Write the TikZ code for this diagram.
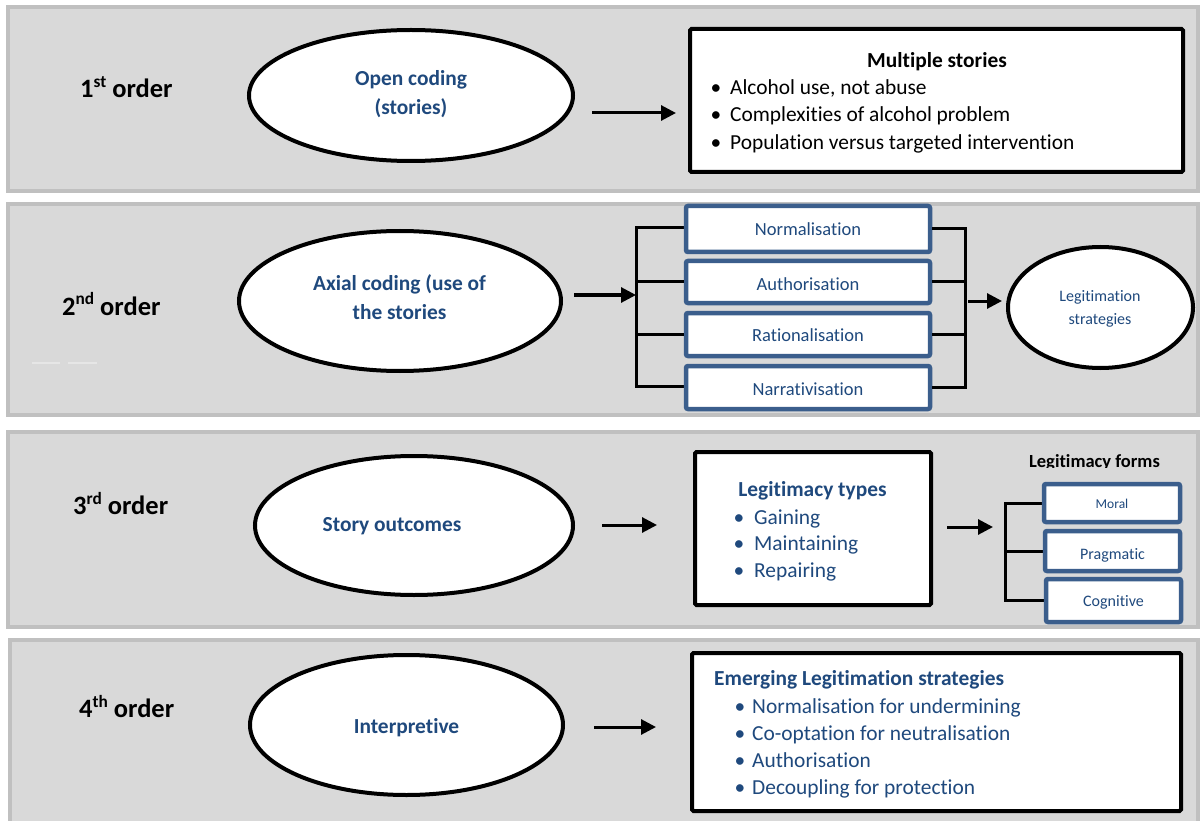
\documentclass[tikz,border=0pt]{standalone}
\usepackage{fontspec}
\setmainfont{Carlito}[Ligatures={NoCommon}]
\usetikzlibrary{shapes.geometric,arrows.meta}

\definecolor{panelfill}{HTML}{D9D9D9}
\definecolor{panelrule}{HTML}{C0C0C0}
\definecolor{inkblue}{HTML}{1F497D}
\definecolor{frameblue}{HTML}{3B5E8C}
\definecolor{streak}{HTML}{E6E6E6}

\newcommand\setfs[1]{\fontsize{#1}{#1}\selectfont}
\newcommand\ordsup[1]{\raisebox{10pt}{\setfs{17.3}#1}}
\newcommand\bul[1]{\llap{\textbullet\hspace{#1pt}}}

\begin{document}
\begin{tikzpicture}[x=1pt,y=-1pt,
  panel/.style={draw=panelrule, fill=panelfill, line width=4pt},
  oval/.style={ellipse, draw=black, fill=white, line width=4pt, inner sep=0pt},
  blackbox/.style={rectangle, draw=black, fill=white, line width=4pt, inner sep=0pt, rounded corners=1.5pt},
  bluebox/.style={rectangle, draw=frameblue, fill=white, line width=4.5pt, inner sep=0pt,
                  rounded corners=2pt, text=inkblue, text depth=0pt},
  link/.style={line width=3pt},
  arr/.style={line width=3pt, -{Triangle[length=15pt,width=15pt]}},
  ordlabel/.style={anchor=base west, inner sep=0pt, font=\setfs{26.5}\bfseries},
  ovaltext/.style={align=center, inner sep=0pt, text=inkblue, font=\fontsize{21.4}{29}\selectfont\bfseries},
  item/.style={anchor=base west, inner sep=0pt, font=\setfs{21.4}},
  heading/.style={anchor=base, inner sep=0pt, font=\setfs{21.4}\bfseries},
]
\useasboundingbox (0,0) rectangle (1200,821);

% ---------- bands ----------
\path[panel] (8,7)    rectangle (1198,191);
\path[panel] (8,204)  rectangle (1198,415);
\path[panel] (8,432)  rectangle (1198,627);
\path[panel] (10,640) rectangle (1198,830);
\draw[streak, line width=1.5pt] (32,363) -- (60,363) (68,363) -- (97,363);

% ---------- 1st order ----------
\node[ordlabel] (ord1) at (80,98) {1\ordsup{st} order};
\node[oval, minimum width=324, minimum height=131] (e1) at (411,95.5) {};
\node[ovaltext] (t1) at (411,94.5) {Open coding\\(stories)};
\node[blackbox, minimum width=493, minimum height=143] (b1) at (936.5,100.5) {};
\node[heading] (b1h) at (937,68) {Multiple stories};
\node[item] (b1i1) at (730,95)  {\bul{9}Alcohol use, not abuse};
\node[item] (b1i2) at (730,122) {\bul{9}Complexities of alcohol problem};
\node[item] (b1i3) at (730,150) {\bul{9}Population versus targeted intervention};
\draw[arr] ([shift={(17,17.5)}]e1.east) -- ([shift={(-12,12.5)}]b1.west);

% ---------- 2nd order ----------
\node[ordlabel] (ord2) at (62,315) {2\ordsup{nd} order};
\node[oval, minimum width=322, minimum height=140] (e2) at (400,301) {};
\node[ovaltext] (t2) at (399.5,297.5) {Axial coding (use of\\the stories};

\coordinate (spineL) at (636,295);
\coordinate (spineR) at (965,301);

\draw[link] (686,228) -- (spineL |- 0,228) -- (spineL |- 0,386.5) -- (686,386.5);
\begin{scope}[every node/.style={bluebox, font=\setfs{18.5}, minimum width=244}]
  \node[minimum height=46, text height=12.6pt] (n1) at (808,229)   {Normalisation};
  \node[minimum height=42, text height=16.6pt] (n2) at (808,282)   {Authorisation};
  \node[minimum height=43, text height=14.6pt] (n3) at (808,334.5) {Rationalisation};
  \node[minimum height=43, text height=16.6pt] (n4) at (808,387.5) {Narrativisation};
\end{scope}
\draw[link] (n2.west) -- (n2.west -| spineL);
\draw[link] (n3.west) -- (n3.west -| spineL);
\draw[link] (n1.east) -- (n1.east -| spineR) -- (n4.east -| spineR) -- (n4.east);
\draw[link] (n2.east) -- (n2.east -| spineR);
\draw[link] (n3.east) -- (n3.east -| spineR);
\draw[arr] ([shift={(11,-6)}]e2.east) -- (spineL);

\node[oval, minimum width=185, minimum height=121] (e5) at (1100.5,307.5) {};
\node[align=center, inner sep=0pt, text=inkblue, font=\fontsize{16}{23}\selectfont] (t5) at (1100,308.5)
  {Legitimation\\strategies};
\draw[arr] ([shift={(3,0)}]spineR) -- ([shift={(-4,-6.5)}]e5.west);

% ---------- 3rd order ----------
\node[ordlabel] (ord3) at (73,514) {3\ordsup{rd} order};
\node[oval, minimum width=318, minimum height=139] (e3) at (414,525.5) {};
\node[heading, text=inkblue] (t3) at (392,531) {Story outcomes};
\node[blackbox, minimum width=236, minimum height=153] (b3) at (813,528.5) {};
\node[heading, text=inkblue] (b3h) at (812.5,496) {Legitimacy types};
\node[item, text=inkblue] (b3i1) at (754,524) {\bul{10}Gaining};
\node[item, text=inkblue] (b3i2) at (754,550) {\bul{10}Maintaining};
\node[item, text=inkblue] (b3i3) at (754,577) {\bul{10}Repairing};
\draw[arr] ([shift={(27,-0.5)}]e3.east) -- ([shift={(-36,-3.5)}]b3.west);

\begin{scope}
  \clip (1000,440) rectangle (1190,467);
  \node[anchor=base, inner sep=0pt, font=\setfs{18.5}\bfseries] (formsh) at (1094.5,467) {Legitimacy forms};
\end{scope}

\coordinate (spine3) at (1005,527);
\draw[link] (1044,503) -- (spine3 |- 0,503) -- (spine3 |- 0,600.5) -- (1046,600.5);
\draw[link] (1045,551) -- (spine3 |- 0,551);
\node[bluebox, font=\setfs{13.5}, text height=10.3pt, minimum width=136, minimum height=38] (m1) at (1112,503)   {Moral};
\node[bluebox, font=\setfs{16},   text height=16.5pt, minimum width=135, minimum height=40] (m2) at (1112.5,551) {Pragmatic};
\node[bluebox, font=\setfs{16},   text height=12.5pt, minimum width=135, minimum height=43] (m3) at (1113.5,600.5) {Cognitive};
\draw[arr] ([shift={(14,-1.5)}]b3.east) -- ([shift={(-12,0)}]spine3);

% ---------- 4th order ----------
\node[ordlabel] (ord4) at (79,717) {4\ordsup{th} order};
\node[oval, minimum width=313, minimum height=140] (e4) at (406.5,725) {};
\node[heading, text=inkblue] (t4) at (406.5,733) {Interpretive};
\node[blackbox, minimum width=489, minimum height=158] (b4) at (936.5,732) {};
\node[heading, anchor=base west, text=inkblue] (b4h) at (714,685) {Emerging Legitimation strategies};
\node[item, text=inkblue] (b4i1) at (752,713) {\bul{7}Normalisation for undermining};
\node[item, text=inkblue] (b4i2) at (752,740) {\bul{7}Co-optation for neutralisation};
\node[item, text=inkblue] (b4i3) at (752,767) {\bul{7}Authorisation};
\node[item, text=inkblue] (b4i4) at (752,794) {\bul{7}Decoupling for protection};
\draw[arr] ([shift={(29,2)}]e4.east) -- ([shift={(-34,-5)}]b4.west);

\end{tikzpicture}
\end{document}
